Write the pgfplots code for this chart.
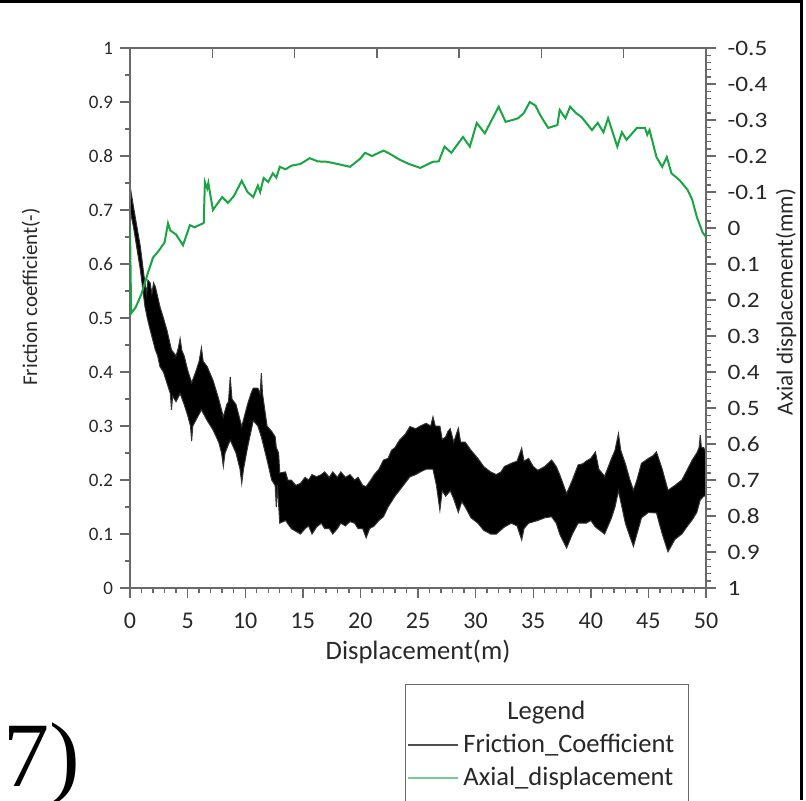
\documentclass[border=0pt]{standalone}
\usepackage{pgfplots}
\pgfplotsset{compat=1.18}
\usepgfplotslibrary{fillbetween}
\usepackage{fontspec}
\setmainfont{Carlito}
\newfontfamily\timesfont{Liberation Serif}
\definecolor{axgray}{RGB}{105,105,105}
\definecolor{grn}{RGB}{25,165,65}
\definecolor{grnleg}{RGB}{120,200,145}
\definecolor{fricleg}{RGB}{80,80,80}
\definecolor{txt}{RGB}{40,40,40}
\begin{document}
\begin{tikzpicture}[x=0.5pt,y=0.5pt]
\pgfplotsset{
  base/.style={scale only axis, width=288pt, height=270pt, xmin=0, xmax=50,
    at={(65pt,106pt)}, anchor=south west,
    axis line style={axgray, line width=0.8pt},
    every tick/.style={axgray, line width=0.7pt},
    major tick length=5pt, minor tick length=2.5pt,
    /pgf/number format/assume math mode=true}
}
\begin{axis}[base, ymin=0, ymax=1,
  xtick={0,5,10,15,20,25,30,35,40,45,50}, minor x tick num=4,
  xtick pos=left, ytick pos=left, tick align=outside,
  ytick={0,0.1,0.2,0.3,0.4,0.5,0.6,0.7,0.8,0.9,1},
  yticklabels={0,0.1,0.2,0.3,0.4,0.5,0.6,0.7,0.8,0.9,1},
  minor y tick num=1,
  yticklabel style={font=\fontsize{9.5}{11}\selectfont, text=txt},
  xticklabel style={font=\fontsize{12}{14}\selectfont, text=txt, yshift=-4pt}]
\addplot[name path=up, draw=black!80, line width=0.5pt] coordinates {
(0,0.745)(0.3,0.706)(0.9,0.632)(1.2,0.58)(1.3,0.565)(1.45,0.545)(1.55,0.57)(1.75,0.565)(1.9,0.545)(2.05,0.565)(2.2,0.558)(2.6,0.521)(2.9,0.50)(3.2,0.478)(3.6,0.441)(4.0,0.43)(4.2,0.445)(4.35,0.462)(4.5,0.44)(4.7,0.43)(5.0,0.404)(5.35,0.38)(5.7,0.40)(6.0,0.42)(6.2,0.445)(6.35,0.42)(6.7,0.41)(7.2,0.385)(7.7,0.35)(8.1,0.317)(8.4,0.34)(8.55,0.345)(8.7,0.391)(8.85,0.35)(9.2,0.34)(9.7,0.299)(10.2,0.34)(10.5,0.36)(10.7,0.37)(11.1,0.37)(11.3,0.36)(11.4,0.398)(11.5,0.36)(11.9,0.30)(12.3,0.29)(12.6,0.28)(12.7,0.26)(12.9,0.25)(13.0,0.213)(13.5,0.215)(13.7,0.20)(14.0,0.20)(14.4,0.19)(14.8,0.194)(15.2,0.205)(15.5,0.20)(15.8,0.21)(16.2,0.206)(16.6,0.21)(16.9,0.215)(17.3,0.205)(17.6,0.215)(18.0,0.205)(18.3,0.215)(18.7,0.205)(19.1,0.21)(19.5,0.20)(19.8,0.205)(20.2,0.19)(20.5,0.188)(20.9,0.20)(21.2,0.21)(21.6,0.22)(22.0,0.237)(22.4,0.24)(22.7,0.255)(23.0,0.26)(23.4,0.274)(23.9,0.285)(24.3,0.299)(24.8,0.295)(25.2,0.30)(25.7,0.305)(26.1,0.30)(26.3,0.317)(26.5,0.30)(26.9,0.30)(27.1,0.275)(27.4,0.28)(27.6,0.29)(27.8,0.295)(28.1,0.27)(28.5,0.296)(28.7,0.27)(29.1,0.27)(29.6,0.255)(30.2,0.24)(30.7,0.225)(31.3,0.215)(31.8,0.21)(32.2,0.215)(32.5,0.225)(33.1,0.231)(33.6,0.235)(34.0,0.259)(34.2,0.235)(34.6,0.24)(35.0,0.225)(35.4,0.218)(36.0,0.225)(36.6,0.237)(37.0,0.225)(37.3,0.21)(37.9,0.175)(38.4,0.20)(38.9,0.228)(39.3,0.23)(39.6,0.235)(40.0,0.24)(40.4,0.252)(40.7,0.22)(41.2,0.207)(41.8,0.24)(42.1,0.255)(42.4,0.286)(42.6,0.255)(43.0,0.23)(43.4,0.20)(43.7,0.181)(44.0,0.20)(44.4,0.231)(45.0,0.24)(45.4,0.245)(45.7,0.252)(46.2,0.22)(46.7,0.181)(47.3,0.19)(47.9,0.20)(48.4,0.22)(48.8,0.237)(49.2,0.25)(49.4,0.26)(49.5,0.283)(49.6,0.26)(49.8,0.26)(50,0.25)
};
\addplot[name path=lo, draw=black!80, line width=0.5pt] coordinates {
(0,0.70)(0.3,0.669)(0.9,0.589)(1.3,0.521)(1.5,0.50)(1.75,0.478)(2.2,0.441)(2.4,0.43)(2.6,0.41)(2.9,0.40)(3.2,0.38)(3.5,0.36)(3.6,0.33)(3.7,0.355)(4.0,0.345)(4.35,0.36)(4.7,0.34)(5.0,0.32)(5.25,0.30)(5.35,0.272)(5.45,0.30)(5.7,0.31)(6.2,0.33)(6.7,0.31)(7.2,0.293)(7.7,0.27)(7.95,0.25)(8.1,0.225)(8.25,0.25)(8.7,0.274)(9.2,0.25)(9.55,0.22)(9.7,0.194)(9.85,0.22)(10.2,0.26)(10.7,0.31)(11.1,0.30)(11.4,0.28)(11.9,0.237)(12.3,0.20)(12.6,0.19)(12.7,0.15)(12.8,0.19)(13.0,0.12)(13.5,0.125)(14.0,0.11)(14.4,0.105)(14.8,0.10)(15.2,0.11)(15.5,0.115)(15.8,0.10)(16.2,0.113)(16.6,0.12)(16.9,0.11)(17.3,0.11)(17.6,0.10)(18.0,0.11)(18.3,0.12)(18.7,0.115)(19.1,0.123)(19.5,0.12)(19.8,0.11)(20.2,0.11)(20.5,0.093)(20.8,0.11)(21.2,0.115)(21.6,0.125)(22.0,0.132)(22.4,0.15)(22.7,0.16)(23.0,0.17)(23.4,0.181)(23.9,0.195)(24.3,0.206)(24.8,0.21)(25.2,0.215)(25.7,0.22)(26.3,0.22)(26.6,0.19)(26.9,0.144)(27.1,0.18)(27.4,0.17)(27.8,0.18)(28.1,0.165)(28.5,0.14)(28.8,0.16)(29.1,0.15)(29.6,0.13)(30.2,0.12)(30.7,0.107)(31.3,0.10)(31.8,0.10)(32.5,0.113)(33.1,0.12)(33.6,0.115)(34.0,0.089)(34.2,0.11)(34.6,0.12)(35.4,0.125)(36.0,0.13)(36.6,0.132)(37.0,0.12)(37.3,0.10)(37.9,0.074)(38.4,0.10)(38.9,0.12)(39.6,0.12)(40.0,0.125)(40.4,0.113)(41.2,0.10)(41.8,0.13)(42.1,0.15)(42.4,0.18)(42.7,0.15)(43.0,0.12)(43.4,0.095)(43.7,0.077)(44.0,0.10)(44.4,0.13)(45.0,0.14)(45.7,0.139)(46.2,0.10)(46.7,0.067)(47.3,0.09)(47.9,0.10)(48.4,0.115)(48.8,0.126)(49.2,0.14)(49.5,0.163)(49.8,0.17)(50,0.17)
};
\addplot[black] fill between[of=up and lo];
\end{axis}
\begin{axis}[base, ymin=-0.5, ymax=1, y dir=reverse, hide x axis,
  ytick pos=right, tick align=outside,
  ytick={-0.5,-0.4,-0.3,-0.2,-0.1,0,0.1,0.2,0.3,0.4,0.5,0.6,0.7,0.8,0.9,1},
  yticklabels={-0.5,-0.4,-0.3,-0.2,-0.1,0,0.1,0.2,0.3,0.4,0.5,0.6,0.7,0.8,0.9,1},
  minor y tick num=4,
  yticklabel style={font=\fontsize{11}{13}\selectfont, xscale=1.15, text=txt, xshift=1.5pt},
  legend style={at={(0.4774,-0.1778)}, anchor=north west, draw=axgray, fill=white,
    font=\fontsize{13.3}{15}\selectfont, text=txt, cells={anchor=west}, row sep=1.8pt,
    inner xsep=1pt, inner ysep=6.2pt}]
\addlegendimage{empty legend}\addlegendentry{\hspace{22pt}Legend}
\addlegendimage{legend image code/.code={\draw[fricleg, line width=1pt] (0pt,0pt)--(25pt,0pt);}}
\addlegendentry{Friction\_Coefficient\rule{4pt}{0pt}}
\addlegendimage{legend image code/.code={\draw[grnleg, line width=1pt] (0pt,0pt)--(25pt,0pt);}}
\addlegendentry{Axial\_displacement}
\addlegendimage{empty legend}\addlegendentry{}
\addplot[grn, line width=1pt, forget plot] coordinates {
(0,0.0)(0.1,0.237)(0.5,0.22)(1.0,0.183)(1.5,0.13)(2.0,0.082)(2.5,0.063)(3.0,0.04)(3.3,-0.013)(3.5,0.007)(4.0,0.018)(4.6,0.048)(5.2,-0.008)(5.6,-0.002)(6.0,-0.008)(6.4,-0.014)(6.5,-0.128)(6.7,-0.11)(6.8,-0.125)(7.2,-0.05)(7.6,-0.068)(8.0,-0.086)(8.5,-0.07)(9.0,-0.088)(9.7,-0.131)(10.2,-0.10)(10.7,-0.086)(11.1,-0.118)(11.3,-0.10)(11.6,-0.139)(12.0,-0.128)(12.4,-0.152)(12.7,-0.14)(13.0,-0.17)(13.5,-0.163)(14.0,-0.173)(14.8,-0.178)(15.6,-0.194)(16.3,-0.185)(17.1,-0.184)(18.0,-0.178)(19.1,-0.17)(20.0,-0.193)(20.4,-0.209)(21.0,-0.20)(22.0,-0.215)(22.4,-0.209)(23.4,-0.19)(24.2,-0.178)(25.2,-0.167)(26.3,-0.184)(26.8,-0.185)(27.3,-0.226)(27.9,-0.209)(28.9,-0.253)(29.5,-0.226)(30.1,-0.292)(30.8,-0.263)(31.4,-0.30)(32.0,-0.337)(32.6,-0.295)(33.2,-0.30)(33.7,-0.305)(34.2,-0.32)(34.7,-0.35)(35.2,-0.34)(35.6,-0.314)(36.3,-0.278)(37.1,-0.286)(37.3,-0.328)(37.8,-0.305)(38.2,-0.337)(38.7,-0.32)(39.2,-0.308)(40.1,-0.272)(40.6,-0.292)(41.1,-0.266)(41.5,-0.305)(42.3,-0.226)(42.7,-0.266)(43.1,-0.245)(44.0,-0.278)(44.7,-0.278)(44.9,-0.259)(45.1,-0.272)(45.7,-0.197)(46.2,-0.17)(46.6,-0.197)(47.0,-0.152)(47.7,-0.133)(48.4,-0.106)(48.8,-0.079)(49.2,-0.031)(49.7,0.012)(50.0,0.025)
};
\end{axis}
\begin{axis}[base, ymin=0, ymax=1, hide y axis,
  xtick={7.142857,14.285714,21.428571,28.571429,35.714286,42.857143},
  xticklabels={}, xtick pos=right, tick align=inside]
\end{axis}
\node[font=\fontsize{13.3}{15}\selectfont, text=txt] at (418,148) {Displacement(m)};
\node[rotate=90, font=\fontsize{10.5}{12}\selectfont, text=txt] at (31,503) {Friction coefficient(-)};
\node[rotate=90, font=\fontsize{11.5}{13}\selectfont, text=txt] at (786,498) {Axial displacement(mm)};
\node[anchor=base west, font=\timesfont\fontsize{46}{50}\selectfont, inner sep=0pt] at (3,14) {7)};
\draw[line width=1.5pt] (0,798.5) -- (801,798.5) -- (801,0);
\pgfresetboundingbox
\useasboundingbox (0,0) rectangle (806,800);
\end{tikzpicture}
\end{document}
